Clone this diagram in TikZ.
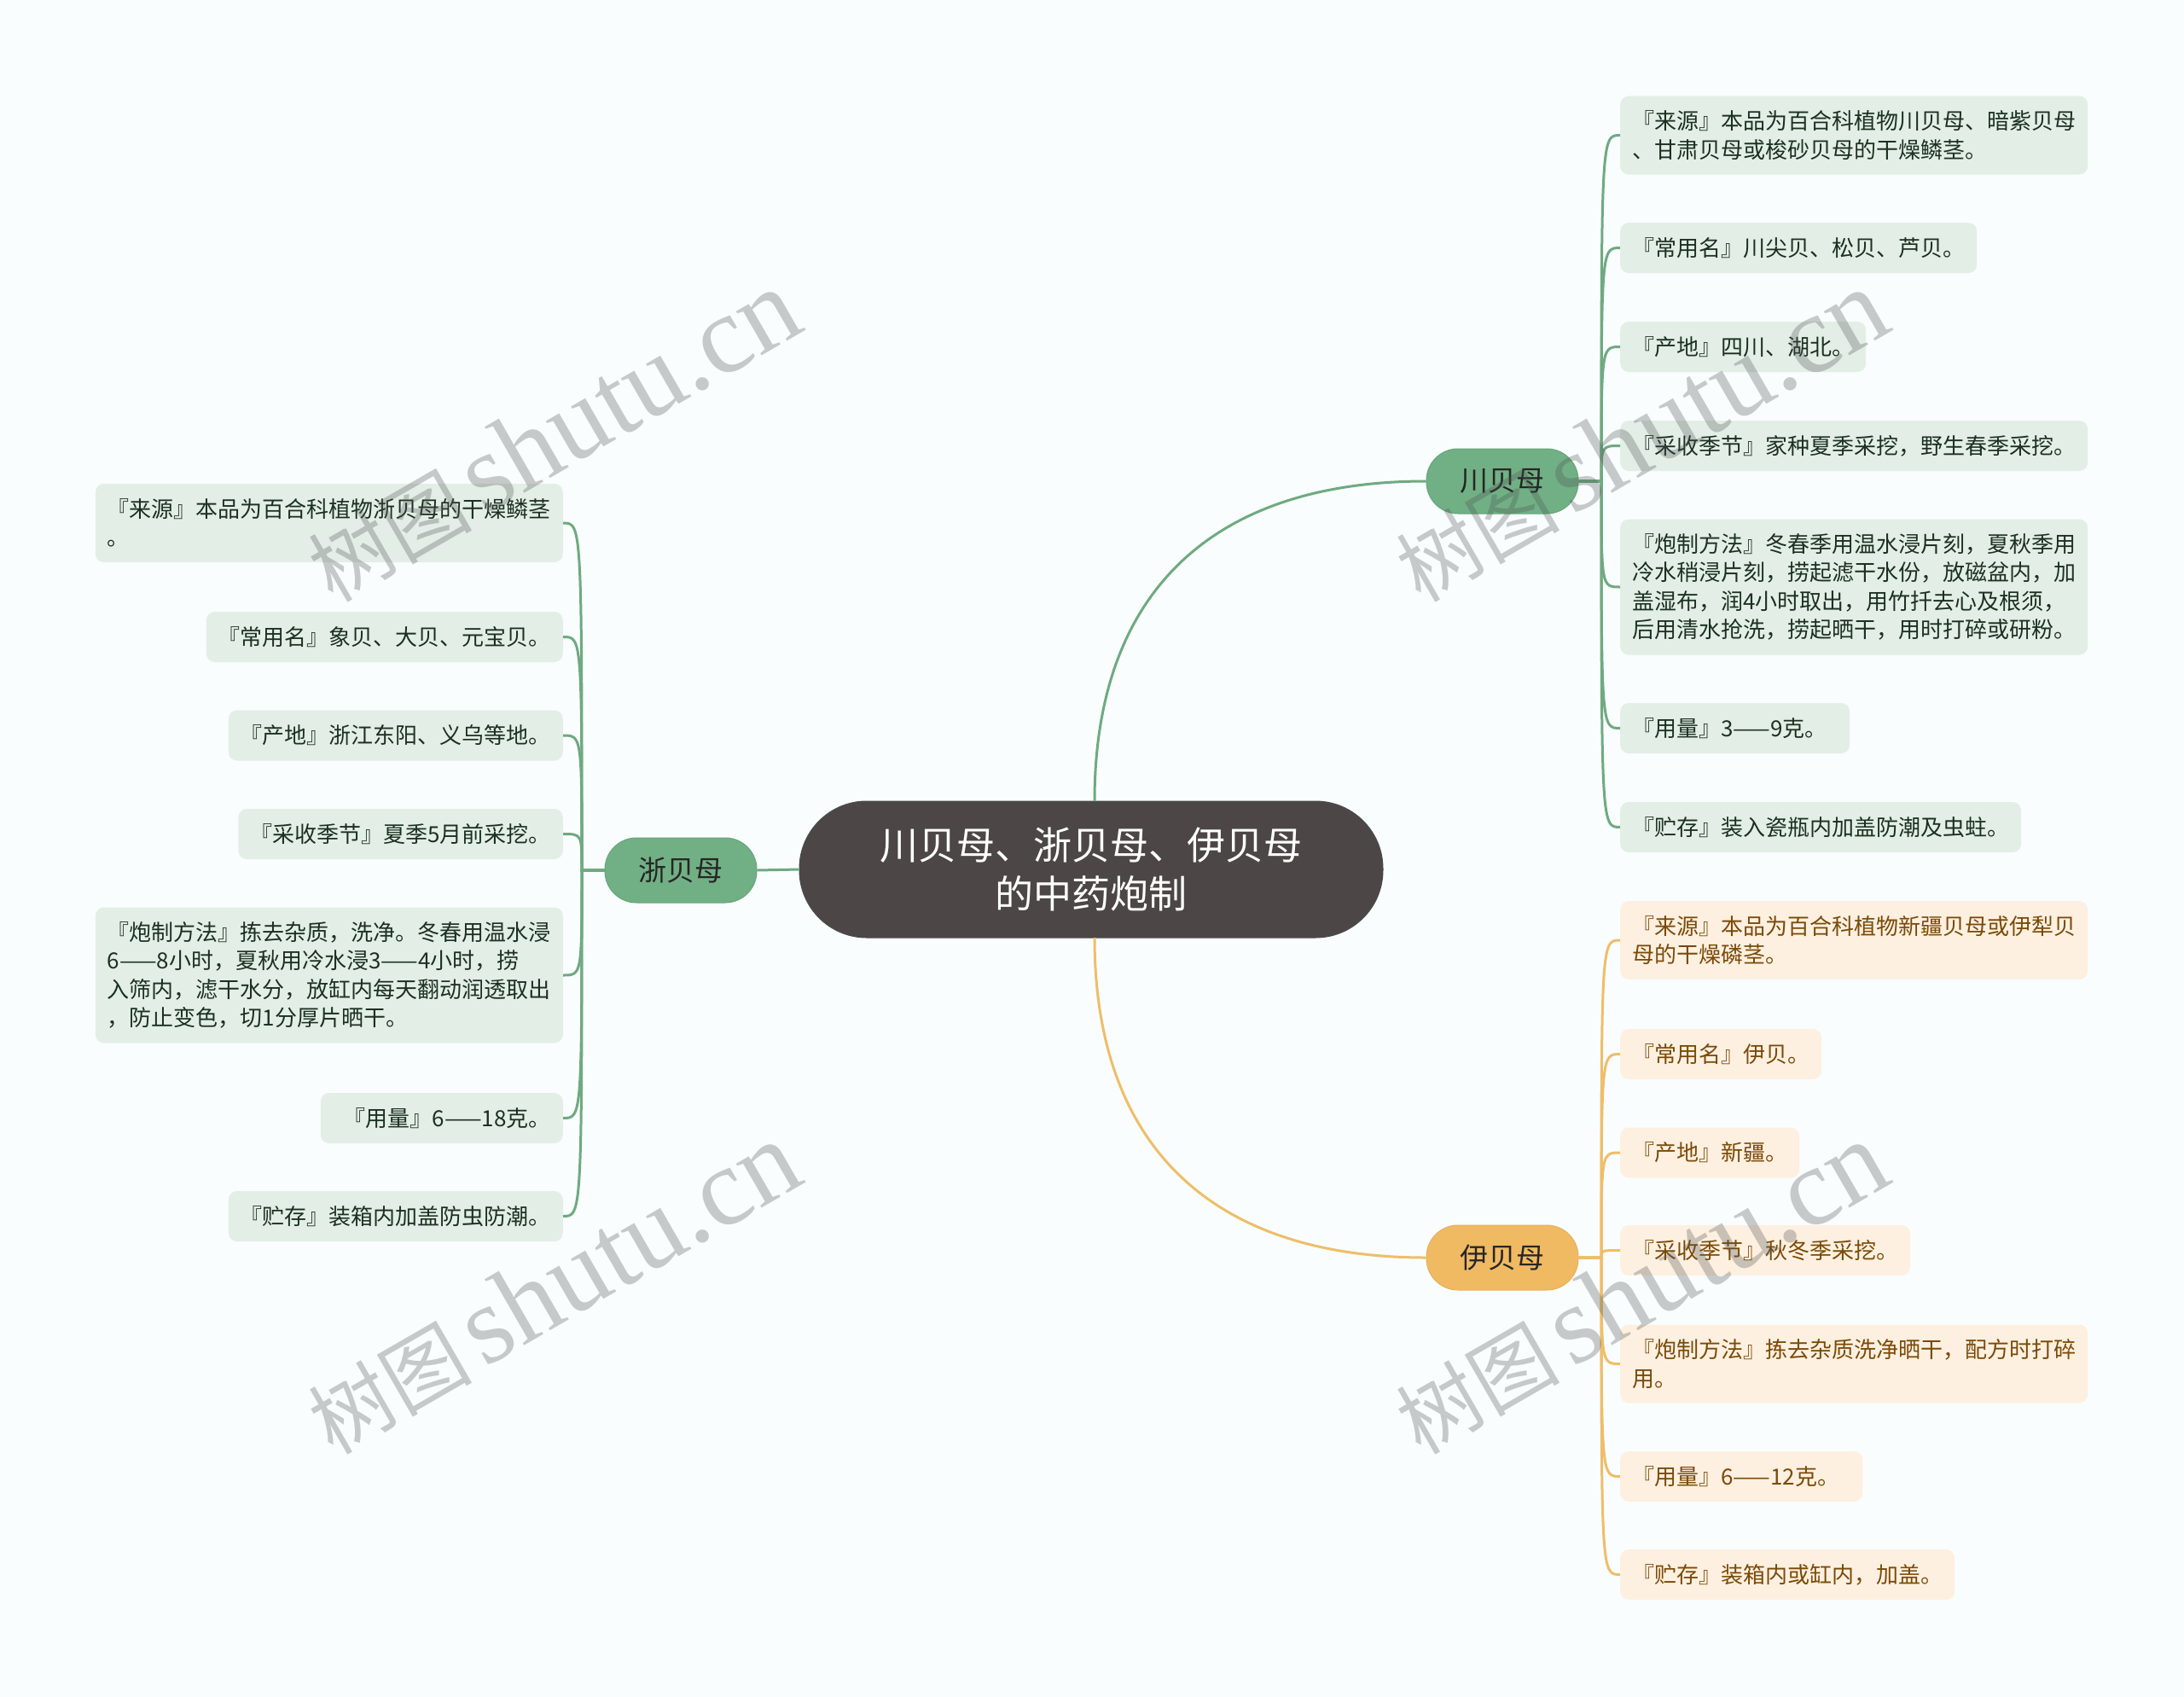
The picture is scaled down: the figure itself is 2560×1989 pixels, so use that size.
\documentclass[tikz,border=0pt]{standalone}
\usepackage{fontspec}
\setmainfont{Noto Sans CJK SC}
\newfontfamily\wmlatin{Liberation Serif}
\newcommand\leaffont{\fontsize{26pt}{33.5pt}\selectfont}
\newcommand\branchfont{\fontsize{33pt}{40pt}\selectfont}
\newcommand\rootfont{\fontsize{45pt}{57pt}\selectfont}
\definecolor{bg}{HTML}{F9FDFD}
\definecolor{cfill}{HTML}{4C4646}
\definecolor{gbranch}{HTML}{71B085}
\definecolor{gbord}{HTML}{66A57A}
\definecolor{gline}{HTML}{6FAA80}
\definecolor{gleaf}{HTML}{E3EFE6}
\definecolor{gtext}{HTML}{1C3021}
\definecolor{obranch}{HTML}{F0BA63}
\definecolor{obord}{HTML}{E8B058}
\definecolor{oline}{HTML}{EFBE69}
\definecolor{oleaf}{HTML}{FDF0E0}
\definecolor{otext}{HTML}{7A4A08}
\definecolor{wm}{HTML}{4F5353}
\begin{document}
\begin{tikzpicture}[x=1pt,y=-1pt,
  leaf/.style={rounded corners=10pt, inner xsep=14pt, inner ysep=0pt, minimum height=59pt, font=\leaffont, align=left},
  gleafbox/.style={leaf, fill=gleaf, text=gtext},
  oleafbox/.style={leaf, fill=oleaf, text=otext},
  wide/.style={text width=520pt},
  twoline/.style={minimum height=92pt},
  fourline/.style={minimum height=159pt},
  branch/.style={rounded corners=37pt, minimum width=178pt, minimum height=76pt, inner sep=0pt, font=\branchfont, line width=1pt},
  gbranchbox/.style={branch, fill=gbranch, draw=gbord, text=black!85},
  obranchbox/.style={branch, fill=obranch, draw=obord, text=black!85},
  rootbox/.style={rounded corners=79pt, minimum width=684pt, minimum height=160pt, inner sep=0pt, fill=cfill, draw=black!70, line width=1pt, text=white, font=\rootfont, align=center},
  gconn/.style={draw=gline, line width=3pt},
  oconn/.style={draw=oline, line width=3pt},
  wmark/.style={text=wm, text opacity=0.3, rotate=30, inner sep=0pt}
]
\useasboundingbox (0,0) rectangle (2560,1989);
\fill[bg] (0,0) rectangle (2560,1989);

% root and branches
\node[rootbox] (root) at (1279,1019) {川贝母、浙贝母、伊贝母\\的中药炮制};
\node[gbranchbox] (cb) at (1761,564) {川贝母};
\node[gbranchbox] (zb) at (798,1020) {浙贝母};
\node[obranchbox] (yb) at (1761,1474) {伊贝母};

% 川贝母 leaves
\node[gleafbox, wide, twoline, anchor=west] (c1) at (1899,158.5) {『来源』本品为百合科植物川贝母、暗紫贝母\\、甘肃贝母或梭砂贝母的干燥鳞茎。};
\node[gleafbox, anchor=west] (c2) at (1899,290.5) {『常用名』川尖贝、松贝、芦贝。};
\node[gleafbox, anchor=west] (c3) at (1899,406.5) {『产地』四川、湖北。};
\node[gleafbox, anchor=west] (c4) at (1899,522.5) {『采收季节』家种夏季采挖，野生春季采挖。};
\node[gleafbox, wide, fourline, anchor=west] (c5) at (1899,688) {『炮制方法』冬春季用温水浸片刻，夏秋季用\\冷水稍浸片刻，捞起滤干水份，放磁盆内，加\\盖湿布，润4小时取出，用竹扦去心及根须，\\后用清水抢洗，捞起晒干，用时打碎或研粉。};
\node[gleafbox, text width=241pt, anchor=west] (c6) at (1899,853.5) {『用量』3——9克。};
\node[gleafbox, anchor=west] (c7) at (1899,969.5) {『贮存』装入瓷瓶内加盖防潮及虫蛀。};

% 伊贝母 leaves
\node[oleafbox, wide, twoline, anchor=west] (y1) at (1899,1102) {『来源』本品为百合科植物新疆贝母或伊犁贝\\母的干燥磷茎。};
\node[oleafbox, anchor=west] (y2) at (1899,1235.5) {『常用名』伊贝。};
\node[oleafbox, anchor=west] (y3) at (1899,1351) {『产地』新疆。};
\node[oleafbox, anchor=west] (y4) at (1899,1465.5) {『采收季节』秋冬季采挖。};
\node[oleafbox, wide, twoline, anchor=west] (y5) at (1899,1598.5) {『炮制方法』拣去杂质洗净晒干，配方时打碎\\用。};
\node[oleafbox, text width=256pt, anchor=west] (y6) at (1899,1730.5) {『用量』6——12克。};
\node[oleafbox, anchor=west] (y7) at (1899,1845.5) {『贮存』装箱内或缸内，加盖。};

% 浙贝母 leaves
\node[gleafbox, wide, twoline, anchor=east] (z1) at (660,613) {『来源』本品为百合科植物浙贝母的干燥鳞茎\\。};
\node[gleafbox, anchor=east] (z2) at (660,746.5) {『常用名』象贝、大贝、元宝贝。};
\node[gleafbox, anchor=east] (z3) at (660,862) {『产地』浙江东阳、义乌等地。};
\node[gleafbox, anchor=east] (z4) at (660,977.5) {『采收季节』夏季5月前采挖。};
\node[gleafbox, wide, fourline, anchor=east] (z5) at (660,1143) {『炮制方法』拣去杂质，洗净。冬春用温水浸\\6——8小时，夏秋用冷水浸3——4小时，捞\\入筛内，滤干水分，放缸内每天翻动润透取出\\，防止变色，切1分厚片晒干。};
\node[gleafbox, text width=256pt, align=right, anchor=east] (z6) at (660,1310.5) {『用量』6——18克。};
\node[gleafbox, anchor=east] (z7) at (660,1425.5) {『贮存』装箱内加盖防虫防潮。};

% root to branches
\draw[gconn] (1283,939) .. controls (1283,695) and (1420,564) .. (cb.west);
\draw[oconn] (1283,1099) .. controls (1283,1343) and (1420,1474) .. (yb.west);
\draw[gconn] (root.west) -- (zb.east);

% trunks
\coordinate (tc) at (1877,564);
\coordinate (ty) at (1877,1474);
\coordinate (tz) at (682,1020);

\foreach \l in {c1,c2,c3,c4,c5,c6,c7}{
  \draw[gconn] (cb.east) -- (tc) .. controls (tc |- \l.west) .. (\l.west);
}
\foreach \l in {y1,y2,y3,y4,y5,y6,y7}{
  \draw[oconn] (yb.east) -- (ty) .. controls (ty |- \l.west) .. (\l.west);
}
\foreach \l in {z1,z2,z3,z4,z5,z6,z7}{
  \draw[gconn] (zb.west) -- (tz) .. controls (tz |- \l.east) .. (\l.east);
}

% watermarks
\foreach \n/\p in {w1/{(648,511)}, w2/{(1923,511)}, w3/{(648,1510)}, w4/{(1923,1510)}}{
  \node[wmark] (\n) at \p {{\fontsize{96pt}{96pt}\selectfont 树图}\hspace{14pt}{\wmlatin\fontsize{130pt}{130pt}\selectfont shutu.cn}};
}
\end{tikzpicture}
\end{document}
